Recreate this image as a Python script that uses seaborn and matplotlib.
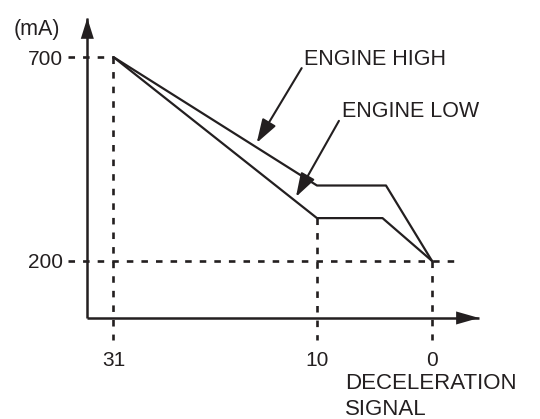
import numpy as np
import pandas as pd
import matplotlib
matplotlib.use("Agg")
import matplotlib.pyplot as plt
import seaborn as sns

# Solenoid current (mA) against deceleration signal, one curve per engine load
signal_high = [31, 10, 4.0, 0]
current_high = [700, 385, 385, 200]
signal_low = [31, 10, 4.3, 0]
current_low = [700, 305, 305, 200]

series_names = ["ENGINE HIGH", "ENGINE LOW"]

x_ticks = [31, 10, 0]
x_tick_labels = ["31", "10", "0"]
y_ticks = [200, 700]
y_tick_labels = ["200", "700"]

x_label = "DECELERATION\nSIGNAL"
y_label = "(mA)"

INK = "#231f20"

sns.set_theme(style="white")
plt.rcParams["font.family"] = ["Liberation Sans", "DejaVu Sans"]
plt.rcParams["lines.scale_dashes"] = False

df = pd.DataFrame({
    "signal": signal_high + signal_low,
    "current": current_high + current_low,
    "engine": [series_names[0]] * len(signal_high) + [series_names[1]] * len(signal_low),
})

fig = plt.figure(figsize=(5.4, 4.19), dpi=100)
ax = fig.add_axes([0.1617, 0.2411, 0.7254, 0.716])

# Piecewise-linear signal axis: the 10..0 stretch is drawn a little wider
# than 31..10. The axis runs from high signal on the left down to 0.
STRETCH = 1.187


def fwd(x):
    x = np.asarray(x, dtype=float)
    return np.where(x >= 10, x, 10 + (x - 10) * STRETCH)


def inv(t):
    t = np.asarray(t, dtype=float)
    return np.where(t >= 10, t, 10 + (t - 10) / STRETCH)


ax.set_xscale("function", functions=(fwd, inv))

sns.lineplot(
    data=df, x="signal", y="current", hue="engine",
    palette=[INK, INK], estimator=None, sort=False, legend=False,
    linewidth=1.6, ax=ax, zorder=3,
)

ax.set_xlim(33.7, -4.09)
ax.set_ylim(60, 796)

# Dashed guide lines to the axes
guide = dict(color=INK, lw=1.9, ls=(0, (4.7, 5.8)), clip_on=False, zorder=2)
below_axis = 6
left_of_axis = 35.7
right_end = -2.26
ax.plot([left_of_axis, signal_high[0]], [current_high[0]] * 2, **guide)
ax.plot([left_of_axis, right_end], [current_high[-1]] * 2, **guide)
guide_tops = [current_high[0], current_low[1], current_low[-1]]
for xv, top in zip(x_ticks, guide_tops):
    ax.plot([xv, xv], [top, below_axis], **guide)

# Axes as arrows
for side in ("top", "right"):
    ax.spines[side].set_visible(False)
for side in ("left", "bottom"):
    ax.spines[side].set_color(INK)
    ax.spines[side].set_linewidth(1.8)
    ax.spines[side].set_capstyle("butt")

head = dict(arrowstyle="-|>,head_length=1.5,head_width=0.47", mutation_scale=10,
            lw=0, color=INK, shrinkA=0, shrinkB=0)
ax.annotate("", xy=(0, 1), xytext=(0, 0.9), xycoords="axes fraction",
            arrowprops=head, annotation_clip=False)
ax.annotate("", xy=(1, 0), xytext=(0.9, 0), xycoords="axes fraction",
            arrowprops=dict(head, arrowstyle="-|>,head_length=1.65,head_width=0.47"),
            annotation_clip=False)

ax.set_xticks(x_ticks, x_tick_labels)
ax.set_yticks(y_ticks, y_tick_labels)
ax.tick_params(axis="x", length=0, pad=24, labelsize=15, labelcolor=INK)
ax.tick_params(axis="y", length=0, pad=17.5, labelsize=15, labelcolor=INK)

ax.set_ylabel(y_label, rotation=0, ha="left", va="center_baseline",
              fontsize=15.5, color=INK)
ax.yaxis.set_label_coords(-0.187, 0.97)
ax.set_xlabel(x_label, ha="left", va="top", multialignment="left",
              linespacing=1.35, fontsize=16, color=INK)
ax.xaxis.set_label_coords(0.658, -0.183)

# Curve call-outs
pointer = dict(arrowstyle="-|>,head_length=1.45,head_width=0.47", mutation_scale=10,
               lw=1.5, color=INK, shrinkA=0, shrinkB=0)
ax.annotate("", xy=(16.22, 489.6), xytext=(11.58, 673), arrowprops=pointer)
ax.annotate("", xy=(12.17, 357), xytext=(8.09, 543.6), arrowprops=pointer)
ax.text(11.34, 701, series_names[0], ha="left", va="center_baseline",
        fontsize=15.5, color=INK)
ax.text(7.83, 572, series_names[1], ha="left", va="center_baseline",
        fontsize=15.5, color=INK)

fig.savefig("out.png", dpi=100)
